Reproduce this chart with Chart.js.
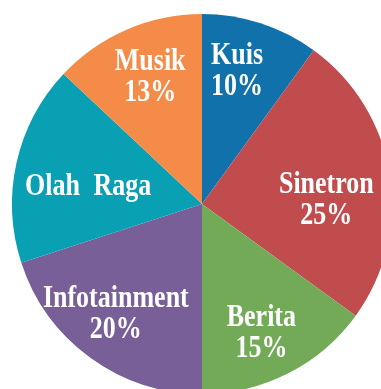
<!DOCTYPE HTML>
<html lang="id">
<head>
    <meta charset="UTF-8">
    <title>Acara TV</title>
    <script src="https://cdn.jsdelivr.net/npm/chart.js"></script>
    <style>
        html, body {
            margin: 0;
            padding: 0;
            background: #fff;
            overflow: hidden;
            width: 381px;
            height: 389px;
        }
        /* kanvas sedikit lebih besar dari jendela, pinggir kanan & bawah terpotong */
        #wrap {
            position: absolute;
            left: 0;
            top: 0;
            width: 404px;
            height: 408px;
        }
    </style>
</head>
<body>
<div id="wrap"><canvas id="pie"></canvas></div>
<script>
    // Data acara TV (persen)
    var labels = ['Kuis', 'Sinetron', 'Berita', 'Infotainment', 'Olah Raga', 'Musik'];
    var values = [10, 25, 15, 20, 17, 13];
    var colors = ['#1172ab', '#c04c4e', '#72aa58', '#785f98', '#0aa0b3', '#f58b49'];

    // Tulisan di dalam potongan: nama + persen
    var sliceLabels = {
        id: 'sliceLabels',
        afterDatasetsDraw: function(chart, args, opts) {
            var ctx = chart.ctx;
            var meta = chart.getDatasetMeta(0);
            meta.data.forEach(function(arc, i) {
                var p = arc.getProps(['x', 'y', 'startAngle', 'endAngle', 'outerRadius'], true);
                var a = (p.startAngle + p.endAngle) / 2;
                var r = p.outerRadius * opts.radius;
                var nudge = opts.nudge[i];
                var x = p.x + Math.cos(a) * r + nudge[0];
                var y = p.y + Math.sin(a) * r + nudge[1];
                var lines = [labels[i]];
                if (opts.noPct.indexOf(i) < 0) lines.push(values[i] + '%');
                var top = y - (lines.length - 1) * opts.lineHeight / 2;

                ctx.save();
                ctx.fillStyle = '#fff';
                ctx.font = 'bold 26px "Liberation Serif", "Times New Roman", serif';
                ctx.wordSpacing = '7px';
                ctx.textAlign = 'center';
                ctx.textBaseline = 'middle';
                lines.forEach(function(t, k) {
                    var ly = top + k * opts.lineHeight;
                    // huruf sedikit lebih tinggi
                    ctx.save();
                    ctx.translate(x, ly);
                    ctx.scale(1, opts.stretch);
                    ctx.fillText(t, 0, 0);
                    ctx.restore();
                });
                ctx.restore();
            });
        }
    };

    var ctx = document.getElementById('pie').getContext('2d');
    var chart = new Chart(ctx, {
        type: 'pie',
        data: {
            labels: labels,
            datasets: [{
                data: values,
                backgroundColor: colors,
                borderWidth: 0
            }]
        },
        options: {
            responsive: true,
            maintainAspectRatio: false,
            animation: false,
            layout: { padding: 12 },
            plugins: {
                legend: { display: false },
                tooltip: { enabled: false },
                sliceLabels: {
                    radius: 0.7,
                    lineHeight: 31,
                    stretch: 1.18,
                    noPct: [4],
                    nudge: [[-6, -6], [-7, 17], [-1, 11], [-8, 3], [16, 12], [1, -4]]
                }
            }
        },
        plugins: [sliceLabels]
    });
</script>
</body>
</html>
